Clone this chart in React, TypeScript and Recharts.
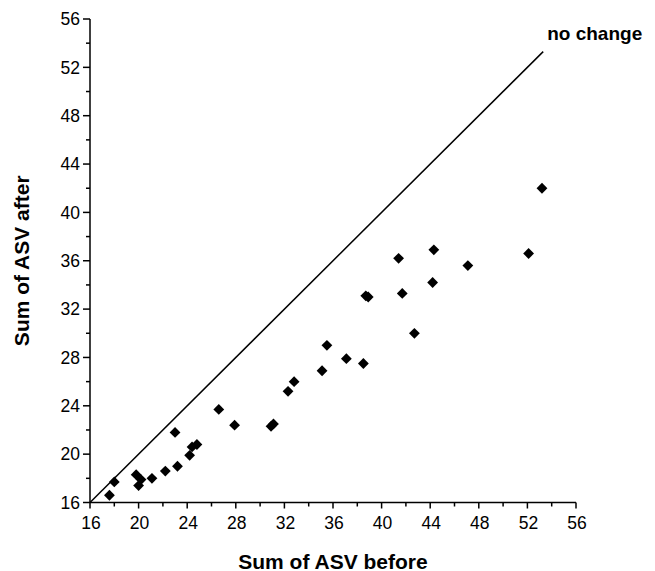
import React from 'react';
import { ScatterChart, Scatter, XAxis, YAxis, ReferenceLine, ReferenceDot, Label } from 'recharts';

const before = [17.6, 18.0, 19.8, 20.2, 20.0, 21.1, 22.2, 23.2, 23.0, 24.2, 24.4, 24.8, 26.6, 27.9, 30.9, 31.1, 32.3, 32.8, 35.1, 35.5, 37.1, 38.5, 38.7, 38.9, 41.4, 41.7, 42.7, 44.2, 44.3, 47.1, 52.1, 53.2];
const after = [16.6, 17.7, 18.3, 17.9, 17.4, 18.0, 18.6, 19.0, 21.8, 19.9, 20.6, 20.8, 23.7, 22.4, 22.3, 22.5, 25.2, 26.0, 26.9, 29.0, 27.9, 27.5, 33.1, 33.0, 36.2, 33.3, 30.0, 34.2, 36.9, 35.6, 36.6, 42.0];
const allTicks = [16, 18, 20, 22, 24, 26, 28, 30, 32, 34, 36, 38, 40, 42, 44, 46, 48, 50, 52, 54, 56];
const axisDomain = [16, 56];
const lineStart = 16;
const lineEnd = 53.3;

const font = '"Liberation Sans", Arial, Helvetica, sans-serif';
const data = before.map((b, i) => ({ before: b, after: after[i] }));

const Diamond = (props: any) => {
  const { cx, cy } = props;
  const r = 5.4;
  return <path d={`M${cx},${cy - r}L${cx + r},${cy}L${cx},${cy + r}L${cx - r},${cy}Z`} fill="#000" />;
};

const XTick = (props: any) => {
  const { x, y, payload } = props;
  const v = payload.value;
  const axisY = y - 6;
  const major = v % 4 === 0;
  return (
    <g>
      <line x1={x} x2={x} y1={axisY} y2={axisY + (major ? 6 : 4)} stroke="#000" strokeWidth={1.5} />
      {major && (
        <text x={x + 1} y={axisY + 26} textAnchor="middle" fontSize={17.5} fontFamily={font} fill="#000">
          {v}
        </text>
      )}
    </g>
  );
};

const YTick = (props: any) => {
  const { x, y, payload } = props;
  const v = payload.value;
  const axisX = x + 7;
  const major = v % 4 === 0;
  return (
    <g>
      <line x1={axisX - (major ? 7 : 4)} x2={axisX} y1={y} y2={y} stroke="#000" strokeWidth={1.5} />
      {major && (
        <text x={axisX - 10} y={y} dy="0.36em" textAnchor="end" fontSize={17.5} fontFamily={font} fill="#000">
          {v}
        </text>
      )}
    </g>
  );
};

const NoChangeLabel = (props: any) => {
  const vb = props.viewBox || {};
  const bx = vb.x !== undefined ? vb.x + (vb.width || 0) / 2 : props.cx;
  const by = vb.y !== undefined ? vb.y + (vb.height || 0) / 2 : props.cy;
  return (
    <text x={bx + 4} y={by - 12} fontSize={19} fontWeight="bold" fontFamily={font} fill="#000">
      no change
    </text>
  );
};

export default function App() {
  return (
    <div style={{ position: 'absolute', left: 0, top: 0, background: '#fff' }}>
      <ScatterChart width={655} height={571} margin={{ top: 19, right: 79, bottom: 2.5, left: 0 }}>
        <XAxis
          type="number"
          dataKey="before"
          domain={axisDomain}
          ticks={allTicks}
          interval={0}
          allowDataOverflow
          height={66}
          tickSize={6}
          tickMargin={0}
          tickLine={false}
          tick={<XTick />}
          axisLine={{ stroke: '#000', strokeWidth: 1.5 }}
        >
          <Label
            value="Sum of ASV before"
            position="insideBottom"
            offset={0}
            style={{ fontSize: 21, fontWeight: 'bold', fontFamily: font, fill: '#000' }}
          />
        </XAxis>
        <YAxis
          type="number"
          dataKey="after"
          domain={axisDomain}
          ticks={allTicks}
          interval={0}
          allowDataOverflow
          width={90}
          tickSize={7}
          tickMargin={0}
          tickLine={false}
          tick={<YTick />}
          axisLine={{ stroke: '#000', strokeWidth: 1.5 }}
        >
          <Label
            value="Sum of ASV after"
            angle={-90}
            position="insideLeft"
            offset={22}
            style={{ fontSize: 21, fontWeight: 'bold', fontFamily: font, fill: '#000', textAnchor: 'middle' }}
          />
        </YAxis>
        <ReferenceLine
          segment={[{ x: lineStart, y: lineStart }, { x: lineEnd, y: lineEnd }]}
          stroke="#000"
          strokeWidth={1.5}
        />
        <ReferenceDot
          x={lineEnd}
          y={lineEnd}
          r={0}
          fill="none"
          stroke="none"
          ifOverflow="visible"
          label={<NoChangeLabel />}
        />
        <Scatter data={data} fill="#000" shape={<Diamond />} isAnimationActive={false} />
      </ScatterChart>
    </div>
  );
}
